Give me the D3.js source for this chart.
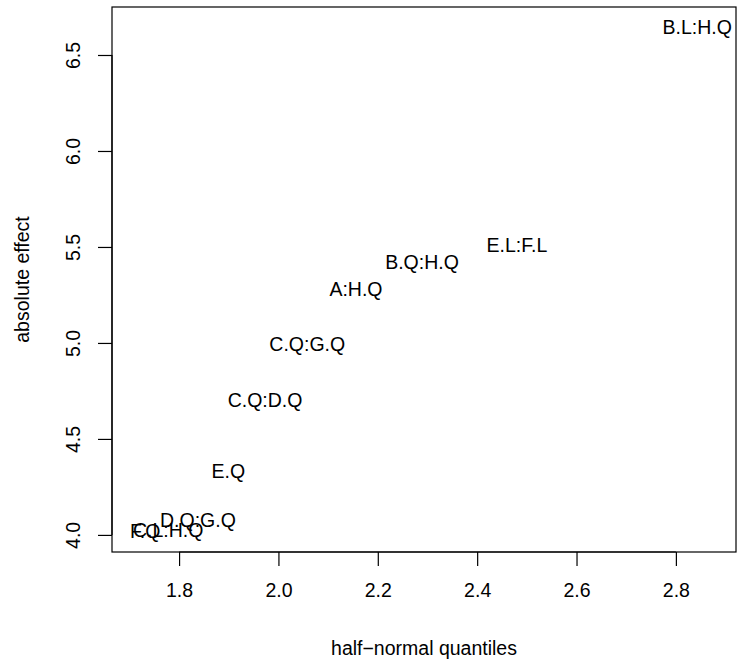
<!DOCTYPE html>
<html>
<head>
<meta charset="utf-8">
<script src="https://cdn.jsdelivr.net/npm/d3@7"></script>
<style>
  body { margin: 0; background: #fff; }
  text { font-family: "Liberation Sans", Arial, sans-serif; fill: #000; }
</style>
</head>
<body>
<div class="chart"></div>
<script>
// effect labels and their half-normal coordinates
var effects = ['F.Q', 'C.L:H.Q', 'D.Q:G.Q', 'E.Q', 'C.Q:D.Q', 'C.Q:G.Q', 'A:H.Q', 'B.Q:H.Q', 'E.L:F.L', 'B.L:H.Q'];
var quantiles = [1.732, 1.778, 1.838, 1.899, 1.973, 2.058, 2.156, 2.289, 2.480, 2.843];
var absEffect = [4.021, 4.026, 4.078, 4.333, 4.703, 4.995, 5.281, 5.422, 5.510, 6.646];
var xTicks = [1.8, 2.0, 2.2, 2.4, 2.6, 2.8];
var yTicks = [4.0, 4.5, 5.0, 5.5, 6.0, 6.5];

var w = 738, h = 663;
var m = {top: 7, right: 2, bottom: 111, left: 112};
var fs = 19.5;

var svg = d3.select('.chart')
  .append('svg')
  .attr('width', w)
  .attr('height', h);

var x = d3.scaleLinear().domain([1.665, 2.921]).range([m.left, w - m.right]);
var y = d3.scaleLinear().domain([3.911, 6.75]).range([h - m.bottom, m.top]);

// x axis
var xAxis = svg.append('g')
  .attr('transform', 'translate(0,' + (h - m.bottom) + ')')
  .call(d3.axisBottom(x).tickValues(xTicks).tickSize(14).tickSizeOuter(0).tickPadding(17).tickFormat(d3.format('.1f')));
xAxis.select('.domain')
  .attr('d', 'M' + x(xTicks[0]) + ',0H' + x(xTicks[xTicks.length - 1]));

// y axis, labels turned like R does
var yAxis = svg.append('g')
  .attr('transform', 'translate(' + m.left + ',0)')
  .call(d3.axisLeft(y).tickValues(yTicks).tickSize(14).tickSizeOuter(0).tickFormat(d3.format('.1f')));
yAxis.select('.domain')
  .attr('d', 'M0,' + y(yTicks[0]) + 'V' + y(yTicks[yTicks.length - 1]));
yAxis.selectAll('.tick text')
  .attr('x', 0).attr('dy', 0)
  .attr('transform', 'translate(-39,0) rotate(-90)')
  .attr('text-anchor', 'middle')
  .attr('dominant-baseline', 'central');

svg.selectAll('.tick text').attr('font-size', fs).attr('font-family', '"Liberation Sans", Arial, sans-serif');
svg.selectAll('.tick line, .domain').attr('stroke', '#000').attr('stroke-width', 1.2);

// frame
svg.append('rect')
  .attr('x', m.left).attr('y', m.top)
  .attr('width', w - m.left - m.right).attr('height', h - m.top - m.bottom)
  .attr('fill', 'none').attr('stroke', '#000').attr('stroke-width', 1.2);

// effect labels at their points
svg.selectAll('text.label')
  .data(effects)
  .enter()
  .append('text')
  .attr('class', 'label')
  .attr('x', function(d, i) { return x(quantiles[i]); })
  .attr('y', function(d, i) { return y(absEffect[i]); })
  .attr('text-anchor', 'middle')
  .attr('dominant-baseline', 'central')
  .attr('font-size', fs)
  .text(function(d) { return d; });

// axis titles
svg.append('text')
  .attr('x', (m.left + w - m.right) / 2)
  .attr('y', 648)
  .attr('text-anchor', 'middle')
  .attr('dominant-baseline', 'central')
  .attr('font-size', fs)
  .text('half\u2212normal quantiles');

svg.append('text')
  .attr('transform', 'translate(22,' + ((m.top + h - m.bottom) / 2) + ') rotate(-90)')
  .attr('text-anchor', 'middle')
  .attr('dominant-baseline', 'central')
  .attr('font-size', fs)
  .text('absolute effect');
</script>
</body>
</html>
